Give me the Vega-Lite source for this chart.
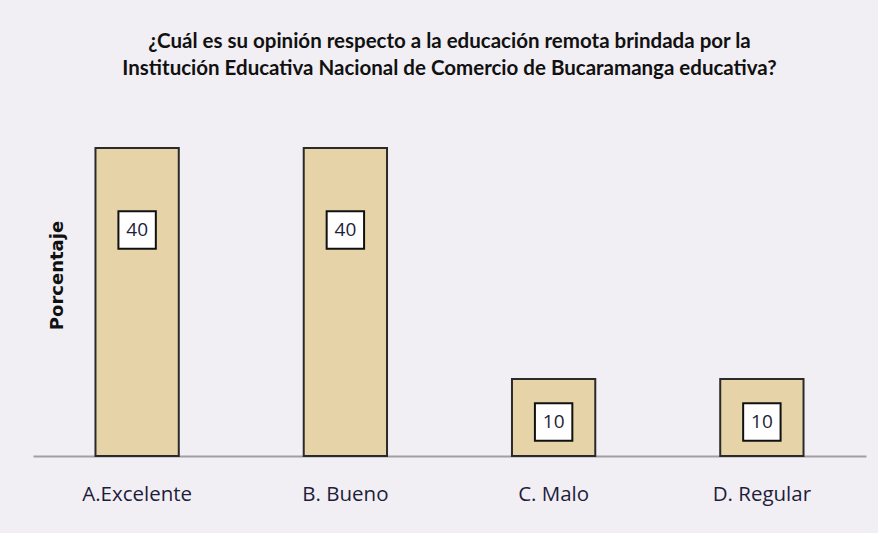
{
  "$schema": "https://vega.github.io/schema/vega-lite/v6.json",
  "autosize": {"type": "none"},
  "width": 833,
  "height": 308,
  "padding": {"left": 33, "right": 12, "top": 148, "bottom": 77},
  "background": "#F1EFF4",
  "title": {
    "text": ["¿Cuál es su opinión  respecto a la educación  remota brindada  por la", "Institución Educativa Nacional de Comercio de Bucaramanga educativa?"],
    "font": "Lato",
    "fontSize": 20.5,
    "fontWeight": "bold",
    "color": "#111111",
    "anchor": "middle",
    "lineHeight": 27,
    "offset": 68
  },
  "data": {
    "values": [
      {"opcion": "A.Excelente", "porcentaje": 40},
      {"opcion": "B. Bueno", "porcentaje": 40},
      {"opcion": "C. Malo", "porcentaje": 10},
      {"opcion": "D. Regular", "porcentaje": 10}
    ]
  },
  "config": {"view": {"stroke": null}},
  "encoding": {
    "x": {
      "field": "opcion",
      "type": "nominal",
      "sort": null,
      "scale": {"paddingInner": 0, "paddingOuter": 0},
      "axis": {
        "title": null,
        "labelAngle": 0,
        "ticks": false,
        "domainColor": "#A0A0A0",
        "domainWidth": 2,
        "labelFont": "Open Sans",
        "labelFontSize": 20.5,
        "labelColor": "#1F1D3A",
        "labelPadding": 28
      }
    }
  },
  "layer": [
    {
      "mark": {"type": "bar", "width": {"band": 0.4}, "color": "#E6D4A8", "stroke": "#2A2A2A", "strokeWidth": 2},
      "encoding": {
        "y": {
          "field": "porcentaje",
          "type": "quantitative",
          "scale": {"domain": [0, 40], "nice": false},
          "axis": {
            "title": "Porcentaje",
            "titleFont": "DejaVu Sans",
            "titleFontSize": 18,
            "titleFontWeight": "bold",
            "titleColor": "#111111",
            "titleX": 33,
            "titleY": 127,
            "titleAngle": -90,
            "labels": false,
            "ticks": false,
            "domain": false,
            "grid": false
          }
        }
      }
    },
    {
      "layer": [
        {
          "mark": {"type": "point", "shape": "square", "filled": true, "color": "white", "stroke": "#111111", "strokeWidth": 2, "opacity": 1, "size": 1400}
        },
        {
          "mark": {"type": "text", "font": "Open Sans", "fontSize": 19, "color": "#1F1D3A", "baseline": "middle", "align": "center"},
          "encoding": {"text": {"field": "porcentaje", "type": "quantitative"}}
        }
      ],
      "encoding": {
        "y": {
          "field": "porcentaje",
          "type": "quantitative",
          "scale": {"domain": [4.7, 52.8], "nice": false, "zero": false},
          "axis": null
        }
      }
    }
  ],
  "resolve": {"scale": {"y": "independent"}}
}
